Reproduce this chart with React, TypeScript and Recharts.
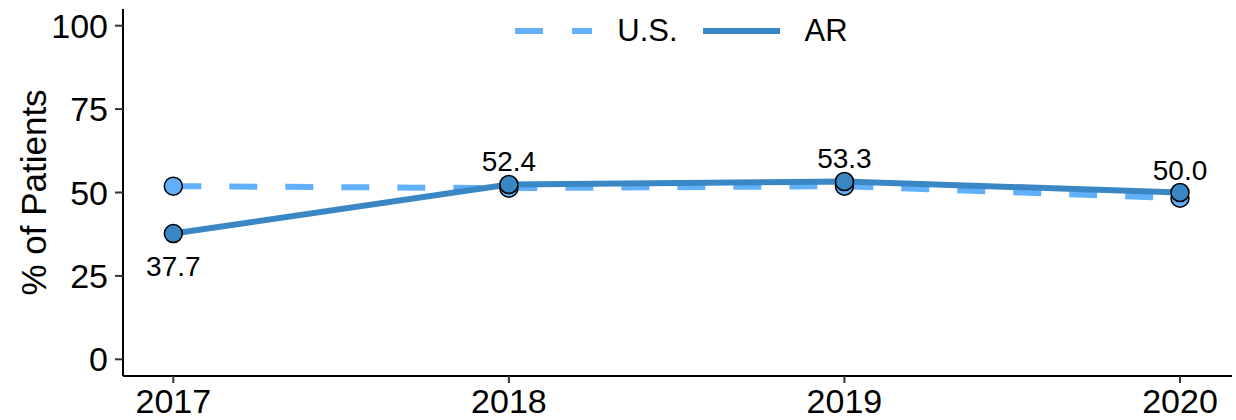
import { LineChart, Line, XAxis, YAxis, LabelList } from "recharts";

document.body.style.margin = "0";

const years = [2017, 2018, 2019, 2020];
const usValues = [51.9, 51.3, 51.9, 48.3];
const arValues = [37.7, 52.4, 53.3, 50.0];
const yTicks = [0, 25, 50, 75, 100];

const US_COLOR = "#62b0fa";
const AR_COLOR = "#3a87c5";
const FONT = "'Liberation Sans', Arial, sans-serif";

const data = years.map((year, i) => ({ year, us: usValues[i], ar: arValues[i] }));

const makeDot = (color: string) => (props: any) => {
  const { cx, cy, index } = props;
  if (cx == null || cy == null) return <g key={index} />;
  return <circle key={index} cx={cx} cy={cy} r={9} fill={color} stroke="#000" strokeWidth={1.5} />;
};

const renderArLabel = (props: any) => {
  const { x, y, value, index } = props;
  const below = index === 0;
  return (
    <text x={x} y={below ? y + 42 : y - 13} textAnchor="middle" fontSize={28} fontFamily={FONT} fill="#000">
      {Number(value).toFixed(1)}
    </text>
  );
};

// legend sits over the plot, like ggplot's inside legend
const LegendBox = () => (
  <div
    style={{
      position: "absolute",
      top: 13,
      left: 127,
      width: 1109,
      display: "flex",
      justifyContent: "center",
      alignItems: "center",
      fontFamily: FONT,
      fontSize: 31,
      color: "#000",
      lineHeight: "36px",
    }}
  >
    <svg width={77} height={10} style={{ marginRight: 25 }}>
      <line x1={0} y1={5} x2={77} y2={5} stroke={US_COLOR} strokeWidth={6} strokeDasharray="28 29" />
    </svg>
    <span style={{ marginRight: 25 }}>U.S.</span>
    <svg width={77} height={10} style={{ marginRight: 25 }}>
      <line x1={0} y1={5} x2={77} y2={5} stroke={AR_COLOR} strokeWidth={6} />
    </svg>
    <span>AR</span>
  </div>
);

const App = () => {
  return (
    <div style={{ position: "relative", width: 1236, height: 420 }}>
      <LineChart width={1236} height={420} data={data} margin={{ top: 9, right: 4, bottom: 0, left: 0 }}>
        <XAxis
          dataKey="year"
          type="number"
          domain={[2016.85, 2020.155]}
          ticks={years}
          allowDataOverflow
          height={44}
          tickSize={7}
          tickMargin={6}
          axisLine={{ stroke: "#000", strokeWidth: 2 }}
          tickLine={{ stroke: "#333", strokeWidth: 2 }}
          tick={{ fontSize: 34, fontFamily: FONT, fill: "#000" }}
        />
        <YAxis
          type="number"
          domain={[-5, 105]}
          ticks={yTicks}
          allowDataOverflow
          width={123}
          tickSize={8}
          tickMargin={7}
          axisLine={{ stroke: "#000", strokeWidth: 2 }}
          tickLine={{ stroke: "#333", strokeWidth: 2 }}
          tick={{ fontSize: 34, fontFamily: FONT, fill: "#000" }}
          label={{ value: "% of Patients", angle: -90, position: "center", dx: -28, fontSize: 35, fontFamily: FONT, fill: "#000" }}
        />
        <Line
          dataKey="us"
          name="U.S."
          stroke={US_COLOR}
          strokeWidth={6}
          strokeDasharray="28 28"
          dot={makeDot(US_COLOR)}
          activeDot={false}
          isAnimationActive={false}
        />
        <Line
          dataKey="ar"
          name="AR"
          stroke={AR_COLOR}
          strokeWidth={6}
          dot={makeDot(AR_COLOR)}
          activeDot={false}
          isAnimationActive={false}
        >
          <LabelList dataKey="ar" content={renderArLabel} />
        </Line>
      </LineChart>
      <LegendBox />
    </div>
  );
};

export default App;
